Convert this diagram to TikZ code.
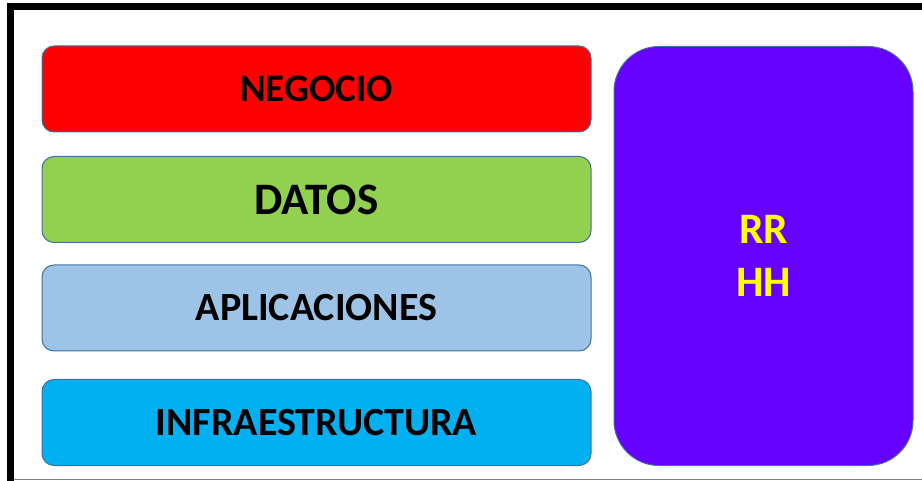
\documentclass[tikz,border=0pt]{standalone}
\usepackage{fontspec}
\setmainfont{Carlito}
\definecolor{outl}{HTML}{41719C}
\definecolor{cred}{HTML}{FF0000}
\definecolor{cgreen}{HTML}{92D050}
\definecolor{clblue}{HTML}{9DC3E6}
\definecolor{ccyan}{HTML}{00B0F0}
\definecolor{cpurple}{HTML}{6600FF}
\definecolor{cyellow}{HTML}{FFFF00}
\begin{document}
\begin{tikzpicture}[x=1pt,y=-1pt,
  layer/.style={draw=outl,line width=1pt,rounded corners=12pt,minimum width=549pt,minimum height=86pt,inner sep=0pt,font=\bfseries\fontsize{40}{48}\selectfont,text=black},
  side/.style={draw=outl,line width=1pt,rounded corners=45pt,minimum width=299pt,minimum height=419pt,inner sep=0pt,fill=cpurple,text=cyellow,align=center,font=\bfseries\fontsize{43.5}{53}\selectfont}]
\useasboundingbox (0,0) rectangle (922,481);
\fill[white] (0,0) rectangle (922,481);
% frame
\draw[gray,line width=1pt] (7,479.5) -- (922,479.5);
\draw[black,line width=7pt] (10.5,481) -- (10.5,6.5) -- (922,6.5);
% layers
\node[layer,fill=cred,font=\bfseries\fontsize{39}{47}\selectfont] (neg) at (316.5,89) {NEGOCIO};
\node[layer,fill=cgreen,font=\bfseries\fontsize{45}{54}\selectfont] (dat) at (316.5,199.5) {DATOS};
\node[layer,fill=clblue] (app) at (316.5,308) {APLICACIONES};
\node[layer,fill=ccyan] (inf) at (316.5,422.5) {INFRAESTRUCTURA};
\node[side] (rrhh) at (763.5,256) {RR\\HH};
\end{tikzpicture}
\end{document}
